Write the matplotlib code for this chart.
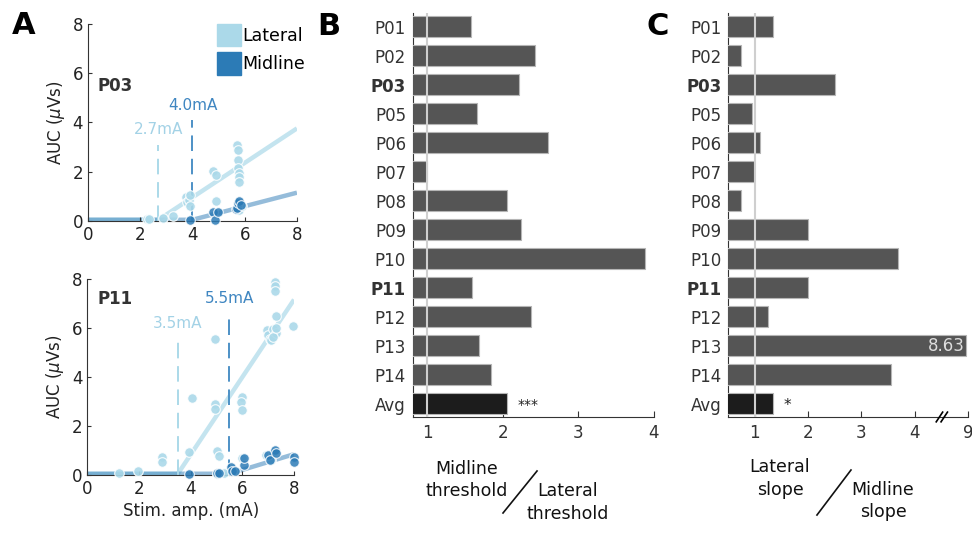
import numpy as np
import matplotlib
matplotlib.use("Agg")
import matplotlib.pyplot as plt
from matplotlib.patches import Patch
from matplotlib.lines import Line2D
import matplotlib.transforms as mtransforms

LAT = "#abd9e9"
MID = "#2c7bb6"
DARK = "#333333"

# panel A data, P03
p03_lat_x = [2.25, 2.35, 2.89, 3.27, 3.75, 3.78, 3.85, 3.91, 3.91, 4.8, 4.9, 4.9,
             5.72, 5.76, 5.76, 5.76, 5.78, 5.78, 5.78, 5.8, 5.9]
p03_lat_y = [0.07, 0.08, 0.12, 0.22, 0.99, 0.79, 0.85, 1.06, 0.61, 2.05, 1.87, 0.81,
             3.09, 2.89, 2.48, 2.14, 1.96, 1.8, 1.6, 0.45, 0.6]
p03_mid_x = [3.91, 4.8, 4.85, 4.99, 5.67, 5.72, 5.76, 5.8, 5.85]
p03_mid_y = [0.03, 0.38, 0.05, 0.38, 0.47, 0.52, 0.74, 0.8, 0.65]

# panel A data, P11
p11_lat_x = [1.23, 1.94, 2.9, 2.9, 3.94, 4.03, 4.92, 4.92, 4.95, 5.01, 5.1, 5.98, 5.95,
             5.98, 6.0, 6.95, 7.0, 7.05, 7.1, 7.2, 7.25, 7.25, 7.25, 7.3, 7.3, 7.2, 7.3,
             7.95, 5.0, 5.3, 6.9, 7.1, 7.2]
p11_lat_y = [0.07, 0.16, 0.74, 0.52, 0.92, 3.13, 2.91, 2.7, 5.56, 0.98, 0.78, 3.18, 3.0,
             2.64, 0.7, 5.9, 5.7, 5.55, 5.5, 5.95, 7.86, 7.72, 7.5, 6.5, 5.8, 5.65, 6.0,
             6.1, 0.05, 0.1, 0.81, 0.6, 0.9]
p11_mid_x = [3.94, 5.01, 5.1, 5.55, 5.6, 5.7, 6.05, 6.05, 7.0, 7.05, 7.28, 7.3, 8.0, 8.0]
p11_mid_y = [0.03, 0.08, 0.1, 0.34, 0.15, 0.18, 0.41, 0.68, 0.8, 0.6, 1.02, 0.9, 0.75, 0.54]

# fitted thresholds (mA) and slopes
p03_thr = [2.7, 4.0]
p03_slope = [0.70, 0.275]
p11_thr = [3.5, 5.5]
p11_slope = [1.58, 0.32]
baseline = 0.05

# panels B and C
subjects = ["P01", "P02", "P03", "P05", "P06", "P07", "P08", "P09", "P10", "P11",
            "P12", "P13", "P14", "Avg"]
thr_ratio = [1.58, 2.43, 2.22, 1.66, 2.60, 1.0, 2.05, 2.24, 3.88, 1.59, 2.37, 1.68, 1.84, 2.05]
slope_ratio = [1.34, 0.74, 2.50, 0.96, 1.10, 0.99, 0.74, 2.00, 3.69, 2.01, 1.25, 8.63, 3.55, 1.34]
bold_subjects = ["P03", "P11"]

fig = plt.figure(figsize=(9.72, 5.45), dpi=100)


def fit_line(x, thr, slope):
    return baseline + slope * np.clip(x - thr, 0, None)


def panel_a(ax, lat, mid, thr, slope, name, thr_label_y, show_xlabel):
    xs = np.linspace(0, 8, 200)
    ax.plot(xs, fit_line(xs, thr[0], slope[0]), color=LAT, lw=3.2, alpha=0.7,
            solid_capstyle="butt", zorder=1)
    ax.plot(xs, fit_line(xs, thr[1], slope[1]), color=MID, lw=3.2, alpha=0.5,
            solid_capstyle="butt", zorder=1)
    ax.scatter(lat[0], lat[1], s=48, color=LAT, edgecolor="white", lw=0.8,
               alpha=0.9, zorder=3, clip_on=False)
    ax.scatter(mid[0], mid[1], s=48, color=MID, edgecolor="white", lw=0.8,
               alpha=0.85, zorder=4, clip_on=False)
    for t, top, c, tc in zip(thr, thr_label_y, [LAT, "#4d91c6"], ["#a3d2e6", "#3f86c1"]):
        ax.plot([t, t], [0, top - 0.6], color=c, lw=1.4, dashes=(8, 4), zorder=2)
        ax.text(t, top, f"{t:.1f}mA", color=tc, ha="center", va="center", fontsize=11)
    ax.text(0.38, thr_label_y[1] + 0.8 if name == "P03" else 7.2, name,
            fontweight="bold", fontsize=12, color=DARK, va="center")
    ax.set_xlim(0, 8)
    ax.set_ylim(0, 8)
    ax.set_xticks([0, 2, 4, 6, 8])
    ax.set_yticks([0, 2, 4, 6, 8])
    ax.tick_params(direction="in", length=3, labelsize=12, colors=DARK, labelcolor="#222222")
    for s in ["top", "right"]:
        ax.spines[s].set_visible(False)
    for s in ["left", "bottom"]:
        ax.spines[s].set_color(DARK)
    ax.set_ylabel(r"AUC ($\mu$Vs)", fontsize=12, color="#222222", labelpad=4)
    if show_xlabel:
        ax.set_xlabel("Stim. amp. (mA)", fontsize=12, color="#222222", labelpad=3)


ax1 = fig.add_axes([0.0905, 0.5945, 0.215, 0.3615])
panel_a(ax1, (p03_lat_x, p03_lat_y), (p03_mid_x, p03_mid_y), p03_thr, p03_slope,
        "P03", [3.7, 4.7], False)
ax1.legend(handles=[Patch(color=LAT, label="Lateral"), Patch(color=MID, label="Midline")],
           loc="upper right", bbox_to_anchor=(1.04, 1.0), frameon=False, fontsize=12.5,
           handlelength=1.35, handleheight=1.6, handletextpad=0.1, labelspacing=0.35,
           borderaxespad=0.0, borderpad=0.0)

ax2 = fig.add_axes([0.09, 0.1284, 0.2125, 0.3596])
panel_a(ax2, (p11_lat_x, p11_lat_y), (p11_mid_x, p11_mid_y), p11_thr, p11_slope,
        "P11", [6.2, 7.2], True)


def panel_bar(ax, values, xlim, ticks, ticklabels):
    y = np.arange(len(subjects))
    colors = ["#555555"] * (len(subjects) - 1) + ["#1c1c1c"]
    ax.barh(y, values, height=0.72, color=colors, edgecolor="#b5b5b5", lw=0.8, zorder=3)
    ax.axvline(1, color="#cfcfcf", lw=1.5, zorder=4)
    ax.set_xlim(*xlim)
    ax.set_ylim(13.45, -0.47)
    ax.set_yticks(y)
    ax.set_yticklabels(subjects)
    for lab in ax.get_yticklabels():
        if lab.get_text() in bold_subjects:
            lab.set_fontweight("bold")
    ax.set_xticks(ticks)
    ax.set_xticklabels(ticklabels)
    ax.tick_params(axis="y", length=0, pad=5, labelsize=12, labelcolor=DARK)
    ax.tick_params(axis="x", direction="in", length=4, pad=5, labelsize=12,
                   labelcolor=DARK, color=DARK)
    for s in ["top", "right"]:
        ax.spines[s].set_visible(False)
    for s in ["left", "bottom"]:
        ax.spines[s].set_color(DARK)
        ax.spines[s].set_zorder(1)


ax3 = fig.add_axes([0.4249, 0.2349, 0.2475, 0.7413])
panel_bar(ax3, thr_ratio, (0.81, 4.0), [1, 2, 3, 4], ["1", "2", "3", "4"])
ax3.text(thr_ratio[-1] + 0.28, 13.05, "***", ha="center", va="center", fontsize=10, color="#222222")

# broken axis in C: segment [4.5, 9] compressed into [4.5, 5]
brk, top_val = 4.5, 9.0
def squash(v):
    return v if v <= brk else brk + (v - brk) * (5 - brk) / (top_val - brk)

ax4 = fig.add_axes([0.7493, 0.2349, 0.2469, 0.7413])
panel_bar(ax4, [squash(v) for v in slope_ratio], (0.51, 5.0), [1, 2, 3, 4, 5],
          ["1", "2", "3", "4", f"{top_val:g}"])
ax4.text(squash(slope_ratio[-1]) + 0.28, 13.05, "*", ha="center", va="center", fontsize=11, color="#222222")
i13 = subjects.index("P13")
ax4.text(squash(slope_ratio[i13]) - 0.02, i13, f"{slope_ratio[i13]:.2f}", ha="right",
         va="center", fontsize=12, color="#dddddd", zorder=5)
trans = mtransforms.blended_transform_factory(ax4.transData, ax4.transAxes)
for dx in [-0.04, 0.05]:
    ax4.plot([brk + dx - 0.06, brk + dx + 0.06], [-0.012, 0.012], color="black", lw=1.2,
             transform=trans, clip_on=False, zorder=6)

# panel letters
for x, y, s in [(0.024, 0.953, "A"), (0.338, 0.951, "B"), (0.677, 0.951, "C")]:
    fig.text(x, y, s, fontsize=22, fontweight="bold", ha="center", va="center")

# ratio captions
cap = dict(fontsize=12.5, ha="center", va="center", color="#111111", linespacing=1.3)
fig.text(0.480, 0.1193, "Midline\nthreshold", **cap)
fig.text(0.5844, 0.078, "Lateral\nthreshold", **cap)
fig.add_artist(Line2D([0.5175, 0.5525], [0.0587, 0.1358], color="#111111", lw=1.2))
fig.text(0.8025, 0.122, "Lateral\nslope", **cap)
fig.text(0.9084, 0.0807, "Midline\nslope", **cap)
fig.add_artist(Line2D([0.8405, 0.8755], [0.055, 0.1376], color="#111111", lw=1.2))

fig.savefig("out.png", dpi=100)
